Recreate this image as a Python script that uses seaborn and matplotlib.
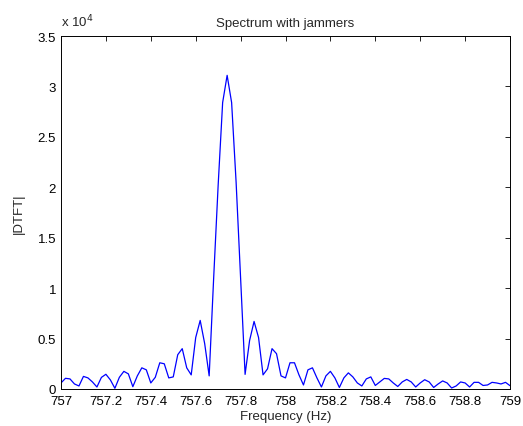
import matplotlib
matplotlib.use("Agg")
import matplotlib.pyplot as plt
import seaborn as sns
import numpy as np
import pandas as pd
from matplotlib.ticker import FuncFormatter

# Frequency grid (Hz) and |DTFT| values (units of 1e4)
freq_start = 757.0
freq_step = 0.02
n_points = 101
dtft_x1e4 = [
    0.06, 0.106, 0.10, 0.05, 0.03, 0.125, 0.11, 0.07, 0.02, 0.115,
    0.146, 0.09, 0.007, 0.116, 0.175, 0.15, 0.023, 0.13, 0.21, 0.19,
    0.06, 0.116, 0.26, 0.25, 0.11, 0.12, 0.34, 0.40, 0.21, 0.14,
    0.51, 0.68, 0.45, 0.13, 1.10, 2.02, 2.84, 3.11, 2.84, 2.05,
    1.10, 0.145, 0.48, 0.67, 0.51, 0.14, 0.20, 0.40, 0.35, 0.13,
    0.11, 0.26, 0.26, 0.14, 0.04, 0.19, 0.21, 0.11, 0.02, 0.13,
    0.175, 0.11, 0.015, 0.11, 0.16, 0.12, 0.06, 0.03, 0.10, 0.12,
    0.035, 0.07, 0.105, 0.10, 0.06, 0.025, 0.07, 0.095, 0.07, 0.02,
    0.06, 0.092, 0.07, 0.015, 0.05, 0.08, 0.06, 0.01, 0.03, 0.07,
    0.06, 0.02, 0.066, 0.066, 0.035, 0.04, 0.066, 0.06, 0.05, 0.066,
    0.033,
]
freq = [freq_start + i * freq_step for i in range(n_points)]
magnitude = [v * 1e4 for v in dtft_x1e4]

x_ticks = [757, 757.2, 757.4, 757.6, 757.8, 758, 758.2, 758.4, 758.6, 758.8, 759]
y_ticks = [0, 5000, 10000, 15000, 20000, 25000, 30000, 35000]

sns.set_style("white")
plt.rcParams['font.family'] = ['Liberation Sans', 'DejaVu Sans']

FS = 9.5
fig = plt.figure(figsize=(5.23, 4.27), dpi=100)
ax = fig.add_axes([61/523, 37/427, (510-61)/523, (390-37)/427])

df = pd.DataFrame({"freq": freq, "mag": magnitude})
sns.lineplot(data=df, x="freq", y="mag", ax=ax, color=(0, 0, 1), linewidth=0.9, estimator=None)

ax.set_xlim(757, 759)
ax.set_ylim(0, 35000)
ax.set_xticks(x_ticks)
ax.set_yticks(y_ticks)
ax.xaxis.set_major_formatter(FuncFormatter(lambda v, p: f"{v:g}"))
ax.yaxis.set_major_formatter(FuncFormatter(lambda v, p: f"{v/1e4:g}"))
ax.tick_params(direction='in', length=3.5, width=0.6, top=True, right=True,
               labelsize=FS, colors='black')
ax.tick_params(axis='x', pad=4.5)
ax.tick_params(axis='y', pad=3.5)
for s in ax.spines.values():
    s.set_visible(True)
    s.set_color('black')
    s.set_linewidth(0.7)

ax.set_title("Spectrum with jammers", fontsize=FS, pad=7)
ax.set_xlabel("Frequency (Hz)", fontsize=FS)
ax.set_ylabel("|DTFT|", fontsize=FS)
ax.xaxis.set_label_coords(0.5, -(411 - 390) / 353)
ax.yaxis.set_label_coords(-(61 - 25) / 449, 0.5)
ax.text(0.0, 1.02, r"x 10$^{4}$", transform=ax.transAxes, fontsize=FS,
        ha='left', va='bottom')

fig.savefig("out.png", dpi=100, facecolor='white')
